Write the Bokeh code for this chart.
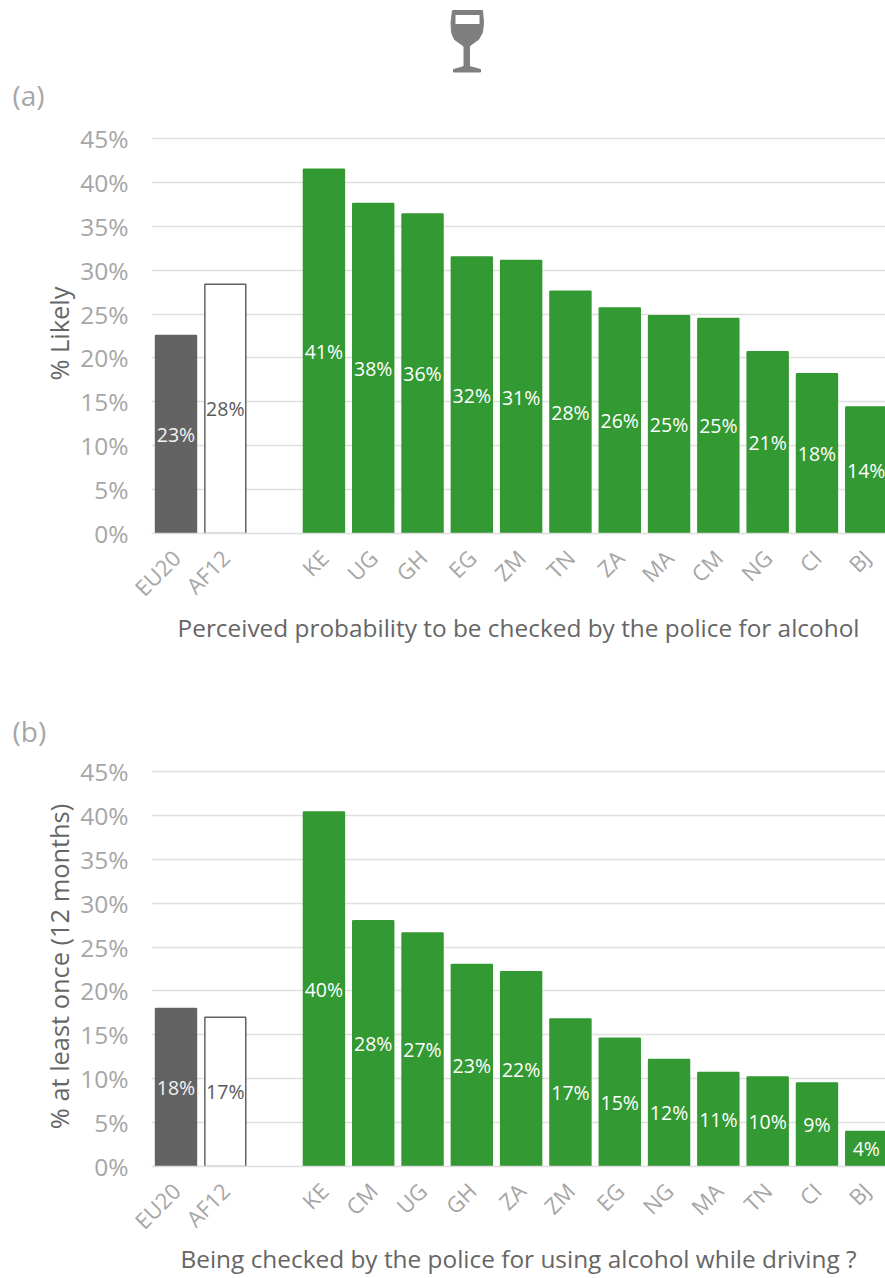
import math
from bokeh.plotting import figure
from bokeh.layouts import column
from bokeh.models import ColumnDataSource, FixedTicker, Range1d, Title
from bokeh.core.properties import value
from bokeh.embed import file_html
from bokeh.resources import INLINE

FONT = "Open Sans"
positions = [0, 1] + list(range(3, 15))

cats_a = ["EU20", "AF12", "KE", "UG", "GH", "EG", "ZM", "TN", "ZA", "MA", "CM", "NG", "CI", "BJ"]
vals_a = [22.55, 28.4, 41.5, 37.6, 36.4, 31.5, 31.1, 27.6, 25.7, 24.8, 24.5, 20.7, 18.2, 14.4]
text_a = ["23%", "28%", "41%", "38%", "36%", "32%", "31%", "28%", "26%", "25%", "25%", "21%", "18%", "14%"]

cats_b = ["EU20", "AF12", "KE", "CM", "UG", "GH", "ZA", "ZM", "EG", "NG", "MA", "TN", "CI", "BJ"]
vals_b = [18.0, 17.0, 40.4, 28.0, 26.6, 23.0, 22.2, 16.8, 14.6, 12.2, 10.7, 10.2, 9.5, 4.0]
text_b = ["18%", "17%", "40%", "28%", "27%", "23%", "22%", "17%", "15%", "12%", "11%", "10%", "9%", "4%"]

y_ticks = [0, 5, 10, 15, 20, 25, 30, 35, 40, 45]

# wine-glass icon outline (page pixels)
cup_x = [452, 482, 483, 482, 478, 471, 469, 469, 473, 480, 480, 453, 453, 460, 463.5, 463.5, 461, 454, 451, 450.5]
cup_y = [10, 10, 22, 32, 39, 44, 46, 66, 67, 69, 71.5, 71.5, 69, 67, 66, 46, 44, 39, 32, 22]
win_x = [455, 479, 479, 455]
win_y = [14.5, 14.5, 23.5, 23.5]


def letter_title(letter, standoff):
    return Title(text=letter, align="left", offset=-139, standoff=standoff,
                 text_font=FONT, text_font_size="28px", text_color="#a6a6a6",
                 text_font_style="normal")


def panel(cats, vals, texts, ylabel, xlabel, height, top, bottom, x_standoff):
    plot_h = height - top - bottom
    p = figure(width=885, height=height, output_backend="svg", toolbar_location=None,
               x_range=Range1d(-0.497, 14.39), y_range=Range1d(0, 45 * (plot_h / 395)),
               min_border_left=151, min_border_right=0, min_border_top=top, min_border_bottom=bottom,
               outline_line_color=None, background_fill_color="white", border_fill_color="white")
    colors = ["#636363", "#ffffff"] + ["#339933"] * 12
    lines = ["#636363", "#636363"] + ["#339933"] * 12
    tcolors = ["#f2f2f2", "#595959"] + ["#ffffff"] * 12
    src = ColumnDataSource(dict(x=positions, top=vals, mid=[v / 2 for v in vals], label=texts,
                                fill=colors, line=lines, tc=tcolors))
    p.vbar(x="x", top="top", bottom=0, width=0.83, fill_color="fill", line_color="line", line_width=1.5, source=src)
    p.text(x="x", y="mid", text="label", text_color="tc", text_align="center", text_baseline="middle",
           text_font=value(FONT), text_font_size="19.5px", source=src)

    p.xaxis.ticker = FixedTicker(ticks=positions)
    p.xaxis.major_label_overrides = {pos: c for pos, c in zip(positions, cats)}
    p.xaxis.major_label_orientation = math.pi / 4
    p.xaxis.major_label_text_font = FONT
    p.xaxis.major_label_text_font_size = "22px"
    p.xaxis.major_label_text_color = "#a6a6a6"
    p.xaxis.major_label_standoff = 14
    p.xaxis.major_tick_line_color = None
    p.xaxis.minor_tick_line_color = None
    p.xaxis.axis_line_color = "#dedede"
    p.xaxis.axis_line_width = 1.5
    p.xaxis.axis_label = xlabel
    p.xaxis.axis_label_text_font = FONT
    p.xaxis.axis_label_text_font_style = "normal"
    p.xaxis.axis_label_text_font_size = "24.4px"
    p.xaxis.axis_label_text_color = "#666666"
    p.xaxis.axis_label_standoff = x_standoff

    p.yaxis.ticker = FixedTicker(ticks=y_ticks)
    p.yaxis.major_label_overrides = {t: f"{t}%" for t in y_ticks}
    p.yaxis.major_label_text_font = FONT
    p.yaxis.major_label_text_font_size = "24.5px"
    p.yaxis.major_label_text_color = "#a6a6a6"
    p.yaxis.major_label_standoff = 17
    p.yaxis.major_tick_line_color = None
    p.yaxis.minor_tick_line_color = None
    p.yaxis.axis_line_color = None
    p.yaxis.axis_label = ylabel
    p.yaxis.axis_label_text_font = FONT
    p.yaxis.axis_label_text_font_style = "normal"
    p.yaxis.axis_label_text_font_size = "25.4px"
    p.yaxis.axis_label_text_color = "#666666"
    p.yaxis.axis_label_standoff = 1

    p.xgrid.visible = False
    p.ygrid.ticker = FixedTicker(ticks=y_ticks)
    p.ygrid.grid_line_color = "#e0e0e0"
    p.ygrid.grid_line_width = 1.5
    return p


icon = figure(width=885, height=118, output_backend="svg", toolbar_location=None,
              x_range=Range1d(151, 885), y_range=Range1d(73, 0),
              min_border_left=151, min_border_right=0, min_border_top=0, min_border_bottom=45,
              outline_line_color=None, border_fill_color="white", x_axis_type=None, y_axis_type=None)
icon.grid.visible = False
icon.patch(cup_x, cup_y, fill_color="#7f7f7f", line_color="#7f7f7f", line_width=1)
icon.patch(win_x, win_y, fill_color="#ffffff", line_color="#ffffff", line_width=0)
icon.add_layout(letter_title("(a)", 0), "below")

pa = panel(cats_a, vals_a, text_a, "% Likely", "Perceived probability to be checked by the police for alcohol",
           547, 15, 132, -4)
pb = panel(cats_b, vals_b, text_b, "% at least once (12 months)", "Being checked by the police for using alcohol while driving ?",
           613, 101, 112, -6)
pb.add_layout(letter_title("(b)", 34), "above")

root = column(icon, pa, pb, spacing=0)
root.styles = {"position": "absolute", "left": "0px", "top": "0px"}

open("out.html", "w").write(file_html(root, INLINE))
